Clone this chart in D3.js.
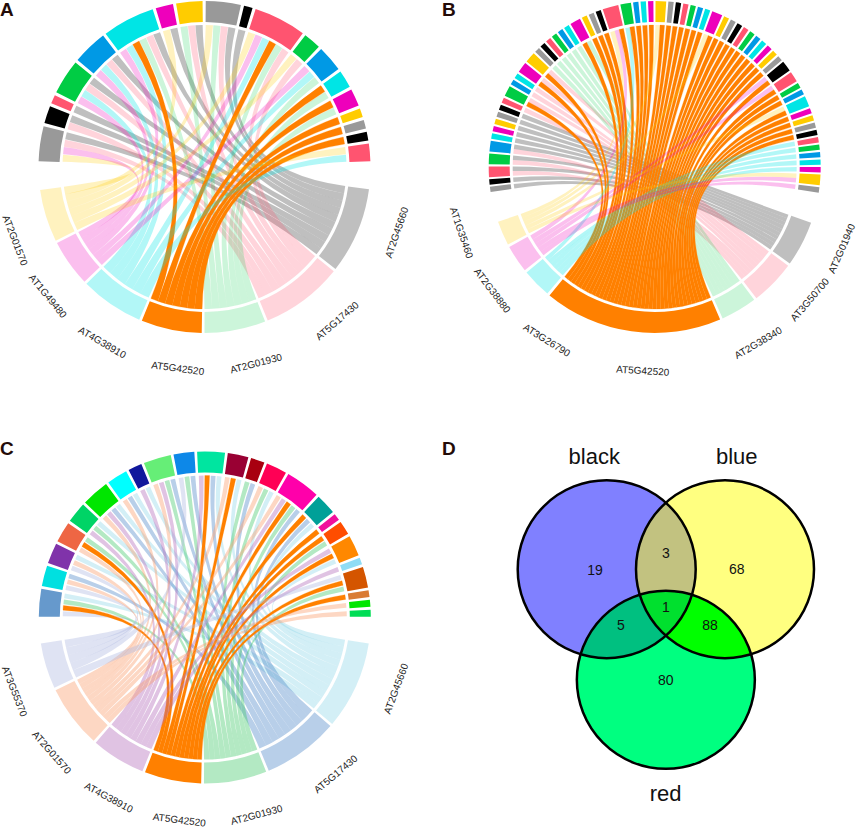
<!DOCTYPE html>
<html>
<head>
<meta charset="utf-8">
<script src="https://cdn.jsdelivr.net/npm/d3@7"></script>
<style>
  body { margin: 0; background: #fff; }
  text { font-family: "Liberation Sans", Arial, sans-serif; }
</style>
</head>
<body>
<div class="canva"></div>
<script>
// gene letters: one letter per gene, in clockwise order along the lower half
const geneKeysA = "kpgocmy";
const geneNamesA = ["AT2G45660", "AT5G17430", "AT2G01930", "AT5G42520", "AT4G38910", "AT1G49480", "AT2G01570"];
const geneSizesA = [31.3, 29.8, 22.2, 22, 23, 17, 19];
const termLinksA = ["ympk", "pk", "k", "mcpk", "mcpk", "mcogpk", "yk", "gpk", "ygpk", "k",
  "ymcogp", "yp", "mcg", "og", "og", "o", "o", "o", "yc"];

const geneKeysB = "kpgocmy";
const geneNamesB = ["AT2G01940", "AT3G50700", "AT2G38340", "AT5G42520", "AT3G26790", "AT2G38880", "AT1G35460"];
const geneSizesB = [16.6, 16.4, 13.2, 65.2, 10.7, 10.1, 8.9];
const termLinksB = ["k", "k", "pk", "pk", "pk", "k", "k", "k", "k", "k", "p", "op", "p", "p", "op", "op",
  "g", "g", "g", "g", "g", "g", "og", "o", "o", "o", "ymo", "co", "o", "o", "o",
  "yo", "o", "o", "o", "o", "o", "o", "yo", "o", "o", "o", "o", "o", "o", "o", "o", "o", "o",
  "mo", "mo", "o", "o", "yo", "o", "o", "o", "o", "c", "c", "c", "c", "c", "ym", "m"];

const geneKeysC = "qbgovel";
const geneNamesC = ["AT2G45660", "AT5G17430", "AT2G01930", "AT5G42520", "AT4G38910", "AT2G01570", "AT3G55370"];
const geneSizesC = [32, 27.5, 22.8, 20.6, 19.7, 22.8, 16.6];
const termLinksC = ["logq", "leb", "leq", "eog", "vgq", "evbq", "ebq", "vq", "evgb", "lgb", "vobq", "eoq",
  "gb", "egq", "evogb", "obq", "o", "og", "voq", "v", "log", "o", "e", "e"];

const termColorsAB = ["#999999", "#000000", "#ff5470", "#00cc44", "#0099e5", "#00e5e5", "#ee00bb", "#ffcc00"];
const termColorsC = ["#6699cc", "#00e0e0", "#8033aa", "#ee6644", "#00d466", "#00e600", "#00ffff", "#10189c",
  "#66ee77", "#0d88e8", "#00e5a0", "#990033", "#a80010", "#ff0055", "#ff00aa", "#00a098",
  "#f0109c", "#ff4d00", "#ff8800", "#8fdcf5", "#d45500", "#d97b33", "#00e600", "#00dd55"];

const geneColorsAB = { k: "#808080", p: "#ff5470", g: "#00cc44", o: "#ff8000", c: "#00e5e5", m: "#ee00bb", y: "#ffcc00" };
const geneAlphaAB = { k: 0.5, p: 0.25, g: 0.2, o: 1, c: 0.3, m: 0.25, y: 0.25 };
const geneColorsC = { q: "#91d7e8", b: "#4d87c8", g: "#41c869", o: "#ff8000", v: "#b169b9", e: "#fa9b69", l: "#afb9e1" };
const geneAlphaC = { q: 0.4, b: 0.4, g: 0.4, o: 1, v: 0.4, e: 0.4, l: 0.4 };

// venn counts
const vennSets = ["black", "blue", "red"];
const vennCounts = [19, 3, 68, 5, 1, 88, 80];

const rad = Math.PI / 180;
const svg = d3.select(".canva").append("svg")
  .attr("width", 858)
  .attr("height", 829)
  .style("display", "block");

const outerR = 166, ringR = 145, ribbonR = 142;
const arc = d3.arc().innerRadius(ringR).outerRadius(outerR);
const ribbon = d3.ribbon();

function chord(p) {
  const g = svg.append("g").attr("transform", `translate(${p.cx},${p.cy})`);
  const nLinks = d3.sum(p.terms, d => d.length);
  const termGap = p.termGap;

  // top half: angle of a running link count
  const topUnits = nLinks + (p.terms.length - 1) * termGap;
  const topScale = d3.scaleLinear().domain([0, topUnits]).range([p.topStart * rad, p.topEnd * rad]);

  // lower half: gene arcs
  const botUnits = d3.sum(p.sizes) + (p.sizes.length - 1) * p.geneGap;
  const botScale = d3.scaleLinear().domain([0, botUnits]).range([p.botStart * rad, p.botEnd * rad]);

  const genes = [];
  let at = 0;
  p.sizes.forEach((s, i) => {
    genes.push({ key: p.keys[i], name: p.names[i], start: botScale(at), end: botScale(at + s), links: [] });
    at += s + p.geneGap;
  });
  const geneBy = {};
  genes.forEach(d => geneBy[d.key] = d);

  // term arcs and their link slots
  const termArcs = [];
  const links = [];
  const inset = (1 - p.linkFill) / 2;
  let pos = 0;
  p.terms.forEach((t, i) => {
    termArcs.push({ i: i, start: topScale(pos), end: topScale(pos + t.length) });
    t.split("").forEach((k, j) => {
      const l = { key: k, term: i, start: topScale(pos + j + inset), end: topScale(pos + j + 1 - inset) };
      links.push(l);
      geneBy[k].links.push(l);
    });
    pos += t.length + termGap;
  });

  // gene side slots: last term at the start of the arc, so ribbons do not cross
  genes.forEach(d => {
    const slot = d3.scaleLinear().domain([0, d.links.length]).range([d.start, d.end]);
    d.links.slice().reverse().forEach((l, j) => {
      l.gStart = slot(j);
      l.gEnd = slot(j + 1);
    });
  });

  g.selectAll(".term").data(termArcs).enter().append("path")
    .attr("d", d => arc({ startAngle: d.start, endAngle: d.end }))
    .attr("fill", d => p.termColor(d.i));

  g.selectAll(".gene").data(genes).enter().append("path")
    .attr("d", d => arc({ startAngle: d.start, endAngle: d.end }))
    .attr("fill", d => p.colors[d.key])
    .attr("fill-opacity", d => p.alpha[d.key]);

  // drawn term by term: later pale ribbons tint the orange below them
  g.selectAll(".link").data(links).enter().append("path")
    .attr("d", d => ribbon({
      source: { startAngle: d.start, endAngle: d.end, radius: ribbonR },
      target: { startAngle: d.gStart, endAngle: d.gEnd, radius: ribbonR }
    }))
    .attr("fill", d => p.colors[d.key])
    .attr("fill-opacity", d => p.alpha[d.key])
    .attr("stroke", d => d.key === "o" ? "#ff8000" : "none")
    .attr("stroke-width", 0.25);

  // gene labels, tangent to the circle
  g.selectAll(".label").data(genes).enter().append("text")
    .attr("transform", (d, i) => {
      const a = (d.start + d.end) / 2 / rad + p.labelShift[i];
      const x = p.labelR * Math.sin(a * rad), y = -p.labelR * Math.cos(a * rad);
      return `translate(${x},${y}) rotate(${a - 180})`;
    })
    .attr("text-anchor", "middle")
    .attr("dy", "0.35em")
    .attr("font-size", 10)
    .attr("fill", "#222")
    .text(d => d.name);
}

const abColor = d3.scaleOrdinal(termColorsAB).domain(d3.range(8));

chord({
  cx: 204.5, cy: 167, keys: geneKeysA, names: geneNamesA, sizes: geneSizesA, terms: termLinksA,
  topStart: -88, topEnd: 88, botStart: 97.7, botEnd: 262, termGap: 0.36, geneGap: 1, linkFill: 0.95,
  termColor: i => abColor(i % 8), colors: geneColorsAB, alpha: geneAlphaAB,
  labelR: 203, labelShift: [-4, -4, -4, -4, -4, -4, -4]
});

chord({
  cx: 654.7, cy: 167, keys: geneKeysB, names: geneNamesB, sizes: geneSizesB, terms: termLinksB,
  topStart: -98.7, topEnd: 98.9, botStart: 109.6, botEnd: 250.7, termGap: 0.4, geneGap: 1, linkFill: 1,
  termColor: i => abColor(i % 8), colors: geneColorsAB, alpha: geneAlphaAB,
  labelR: 204, labelShift: [-4, -3.8, 0, -4.7, -13.5, -3.6, 4.8]
});

chord({
  cx: 204.8, cy: 617.5, keys: geneKeysC, names: geneNamesC, sizes: geneSizesC, terms: termLinksC,
  topStart: -89.7, topEnd: 89.7, botStart: 99, botEnd: 261, termGap: 0.4, geneGap: 1, linkFill: 0.8,
  termColor: i => termColorsC[i], colors: geneColorsC, alpha: geneAlphaC,
  labelR: 204, labelShift: [-4, -4, -4, -4, -3.5, -4.4, -4.2]
});

// panel letters
svg.selectAll(".letter")
  .data([["A", 0, 16], ["B", 442, 16], ["C", 0, 455], ["D", 442, 455]])
  .enter().append("text")
  .attr("x", d => d[1]).attr("y", d => d[2])
  .attr("font-size", 19).attr("font-weight", "bold").attr("fill", "#230b08")
  .text(d => d[0]);

// venn
const vennX = d3.scaleLinear().domain([0, 1]).range([606.7, 725]);
const vennY = d3.scaleLinear().domain([0, 1]).range([569.2, 679.8]);
const vennR = 89;
const circles = [
  { cx: vennX(0), cy: vennY(0), fill: "#8080ff" },
  { cx: vennX(1), cy: vennY(0), fill: "#ffff80" },
  { cx: vennX(0.5), cy: vennY(1), fill: "#00ff80" }
];
const defs = svg.append("defs");
circles.forEach((c, i) => {
  defs.append("clipPath").attr("id", "clip" + i)
    .append("circle").attr("cx", c.cx).attr("cy", c.cy).attr("r", vennR);
});
const v = svg.append("g");
v.selectAll(".base").data(circles).enter().append("circle")
  .attr("cx", d => d.cx).attr("cy", d => d.cy).attr("r", vennR).attr("fill", d => d.fill);
v.append("circle").attr("cx", circles[1].cx).attr("cy", circles[1].cy).attr("r", vennR)
  .attr("clip-path", "url(#clip0)").attr("fill", "#c2c280");
v.append("circle").attr("cx", circles[2].cx).attr("cy", circles[2].cy).attr("r", vennR)
  .attr("clip-path", "url(#clip0)").attr("fill", "#00c080");
v.append("circle").attr("cx", circles[2].cx).attr("cy", circles[2].cy).attr("r", vennR)
  .attr("clip-path", "url(#clip1)").attr("fill", "#00ff00");
v.append("g").attr("clip-path", "url(#clip0)")
  .append("circle").attr("cx", circles[2].cx).attr("cy", circles[2].cy).attr("r", vennR)
  .attr("clip-path", "url(#clip1)").attr("fill", "#00e02e");
v.selectAll(".ring").data(circles).enter().append("circle")
  .attr("cx", d => d.cx).attr("cy", d => d.cy).attr("r", vennR)
  .attr("fill", "none").attr("stroke", "#000").attr("stroke-width", 2.5);

const countAt = [[595, 570], [666, 553.3], [736.7, 569.3], [621, 625], [666, 607.3], [710, 625], [665.7, 680]];
v.selectAll(".count").data(vennCounts).enter().append("text")
  .attr("x", (d, i) => countAt[i][0]).attr("y", (d, i) => countAt[i][1])
  .attr("dy", "0.35em").attr("text-anchor", "middle").attr("font-size", 14).attr("fill", "#111")
  .text(d => d);

const setAt = [[594.3, 464], [736.7, 464], [665.7, 801]];
v.selectAll(".set").data(vennSets).enter().append("text")
  .attr("x", (d, i) => setAt[i][0]).attr("y", (d, i) => setAt[i][1])
  .attr("text-anchor", "middle").attr("font-size", 22).attr("fill", "#111")
  .text(d => d);
</script>
</body>
</html>
